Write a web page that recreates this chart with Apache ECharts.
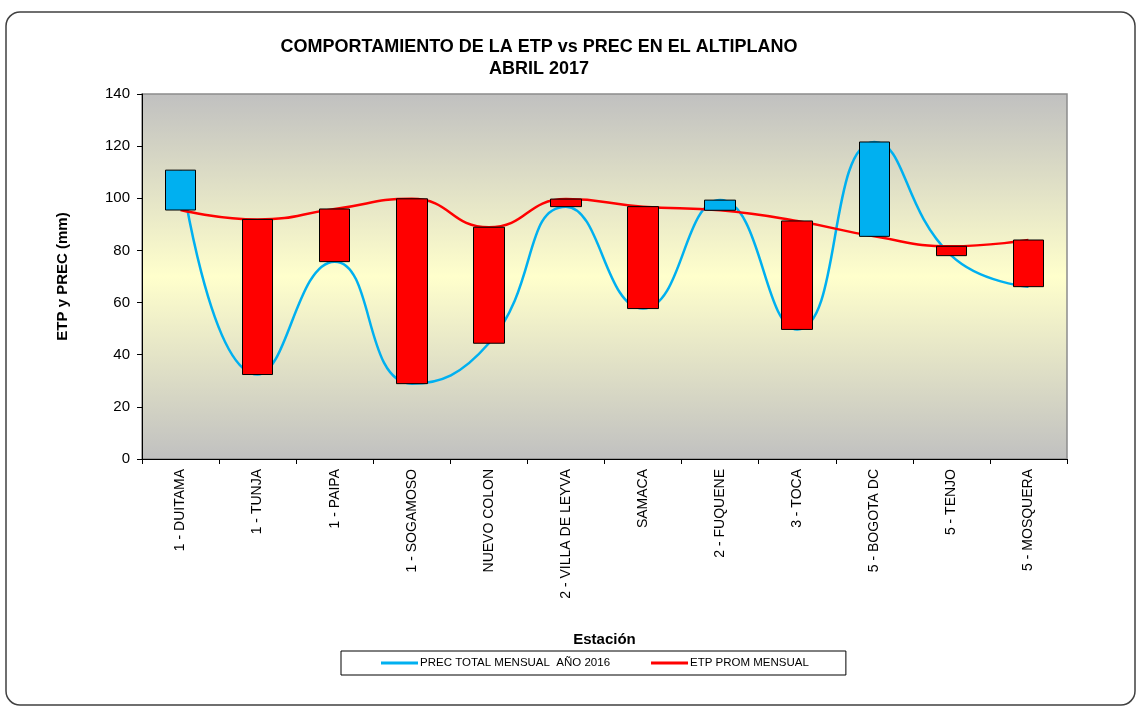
<!DOCTYPE html>
<html>
<head>
<meta charset="utf-8">
<script src="https://cdn.jsdelivr.net/npm/echarts@6/dist/echarts.min.js"></script>
<style>
html,body{margin:0;padding:0;background:#fff;}
#chart{width:1137px;height:708px;}
</style>
</head>
<body>
<div id="chart"></div>
<script>
// Data
const categories = ['1 - DUITAMA','1 - TUNJA','1 - PAIPA','1 - SOGAMOSO','NUEVO COLON','2 - VILLA DE LEYVA','SAMACA','2 - FUQUENE','3 - TOCA','5 - BOGOTA DC','5 - TENJO','5 - MOSQUERA'];
const prec = [110.8, 32.4, 75.7, 28.9, 44.4, 96.8, 57.7, 99.3, 49.7, 121.6, 78.0, 66.1];
const etp  = [95.5, 91.9, 95.9, 99.8, 88.9, 99.7, 96.8, 95.4, 91.3, 85.4, 81.6, 84.0];
const yTicks = {min: 0, max: 140, interval: 20};
const titleText = 'COMPORTAMIENTO DE LA ETP vs PREC EN EL ALTIPLANO\nABRIL 2017';
const precName = 'PREC TOTAL MENSUAL  AÑO 2016';
const etpName = 'ETP PROM MENSUAL';

// up/down bars between ETP (open) and PREC (close)
const bars = etp.map((e, i) => {
  const p = prec[i];
  return [e, p, Math.min(e, p), Math.max(e, p)];
});

const chart = echarts.init(document.getElementById('chart'));
const FONT = 'Arial, "Liberation Sans", sans-serif';
chart.setOption({
  backgroundColor: '#fff',
  animation: false,
  title: {
    text: titleText,
    left: 534,
    textAlign: 'center',
    top: 31,
    textStyle: {fontFamily: FONT, fontSize: 18, fontWeight: 'bold', color: '#000', lineHeight: 22}
  },
  graphic: [{
    type: 'rect',
    shape: {x: 6, y: 12, width: 1129, height: 693, r: 14},
    style: {fill: 'none', stroke: '#404040', lineWidth: 1.5},
    z: -1
  }],
  legend: {
    left: 341,
    top: 651,
    orient: 'horizontal',
    padding: [6, 37, 6, 40],
    itemGap: 41,
    itemWidth: 37,
    itemHeight: 3,
    borderColor: '#000',
    borderWidth: 1,
    textStyle: {fontFamily: FONT, fontSize: 11.5, color: '#000', padding: [0, 0, 0, -3]},
    data: [
      {name: precName, icon: 'rect'},
      {name: etpName, icon: 'rect'}
    ]
  },
  grid: {
    left: 142, right: 70, top: 94, bottom: 249,
    show: true,
    backgroundColor: new echarts.graphic.LinearGradient(0, 0, 0, 1, [
      {offset: 0, color: '#c0c0c0'},
      {offset: 0.5, color: '#ffffcc'},
      {offset: 1, color: '#c0c0c0'}
    ]),
    borderColor: '#8c8c8c',
    borderWidth: 1.5
  },
  xAxis: {
    type: 'category',
    data: categories,
    boundaryGap: true,
    name: 'Estación',
    nameLocation: 'middle',
    nameGap: 173,
    nameTextStyle: {fontFamily: FONT, fontSize: 15, fontWeight: 'bold', color: '#000'},
    axisLine: {lineStyle: {color: '#000', width: 1}},
    axisTick: {show: true, length: 5, lineStyle: {color: '#000'}},
    axisLabel: {rotate: 90, margin: 10, interval: 0, fontFamily: FONT, fontSize: 14, color: '#000'},
    splitLine: {show: false}
  },
  yAxis: {
    type: 'value',
    min: yTicks.min, max: yTicks.max, interval: yTicks.interval,
    name: 'ETP y PREC (mm)',
    nameLocation: 'middle',
    nameRotate: 90,
    nameGap: 72,
    nameTextStyle: {fontFamily: FONT, fontSize: 15, fontWeight: 'bold', color: '#000'},
    axisLine: {show: true, lineStyle: {color: '#000', width: 1}},
    axisTick: {show: true, length: 5, lineStyle: {color: '#000'}},
    axisLabel: {margin: 12, fontFamily: FONT, fontSize: 15, color: '#000'},
    splitLine: {show: false}
  },
  series: [
    {
      name: precName,
      type: 'line',
      data: prec,
      smooth: 0.5,
      symbol: 'none',
      lineStyle: {color: '#00b0f0', width: 2.5},
      itemStyle: {color: '#00b0f0'},
      z: 2
    },
    {
      name: etpName,
      type: 'line',
      data: etp,
      smooth: 0.5,
      symbol: 'none',
      lineStyle: {color: '#ff0000', width: 2.5},
      itemStyle: {color: '#ff0000'},
      z: 2
    },
    {
      name: 'barras',
      type: 'candlestick',
      data: bars,
      barWidth: 31,
      itemStyle: {
        color: '#00b0f0', color0: '#ff0000',
        borderColor: '#000', borderColor0: '#000', borderWidth: 1
      },
      z: 5
    }
  ]
});
</script>
</body>
</html>
